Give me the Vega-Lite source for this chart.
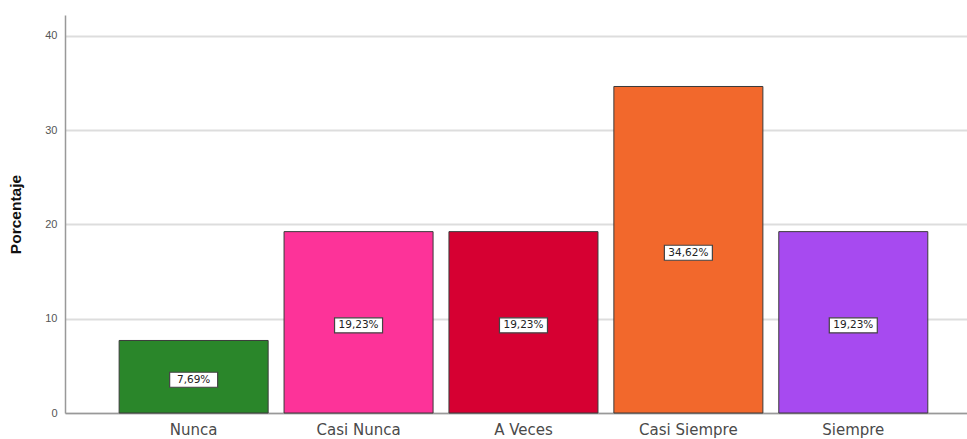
{
  "$schema": "https://vega.github.io/schema/vega-lite/v6.json",
  "width": 902,
  "height": 398,
  "autosize": {"type": "none"},
  "padding": {"left": 65, "top": 15, "right": 0, "bottom": 26},
  "background": "white",
  "config": {"view": {"stroke": null}, "font": "Liberation Sans"},
  "data": {"values": [
    {"cat": "Nunca", "pct": 7.69, "label": "7,69%"},
    {"cat": "Casi Nunca", "pct": 19.23, "label": "19,23%"},
    {"cat": "A Veces", "pct": 19.23, "label": "19,23%"},
    {"cat": "Casi Siempre", "pct": 34.62, "label": "34,62%"},
    {"cat": "Siempre", "pct": 19.23, "label": "19,23%"}
  ]},
  "transform": [{"calculate": "datum.pct / 2", "as": "mid"}],
  "encoding": {
    "x": {
      "field": "cat", "type": "nominal", "sort": null,
      "scale": {"paddingInner": 0.0964, "paddingOuter": 0.283, "align": 0.58},
      "axis": {"title": null, "labelAngle": 0, "labelFontSize": 15, "labelColor": "#4a4a4a", "labelPadding": 9, "ticks": false, "domainColor": "#999999", "domainWidth": 1.5, "labelFont": "DejaVu Sans"}
    }
  },
  "layer": [
    {
      "mark": {"type": "bar", "stroke": "#3a3a3a", "strokeWidth": 1},
      "encoding": {
        "y": {
          "field": "pct", "type": "quantitative",
          "scale": {"domain": [0, 42.2], "nice": false},
          "axis": {"title": "Porcentaje", "titleFontSize": 15.5, "titleFontWeight": "bold", "titleColor": "#111111", "titlePadding": 21, "titleFont": "Liberation Sans",
            "values": [0, 10, 20, 30, 40], "labelFontSize": 11, "labelColor": "#555555", "labelPadding": 8, "ticks": false,
            "grid": true, "gridColor": "#dddddd", "gridWidth": 2, "domainColor": "#999999", "domainWidth": 1.5}
        },
        "color": {
          "field": "cat", "type": "nominal", "sort": null, "legend": null,
          "scale": {"domain": ["Nunca", "Casi Nunca", "A Veces", "Casi Siempre", "Siempre"],
                    "range": ["#2a862a", "#fd3399", "#d60032", "#f2682c", "#a74af0"]}
        }
      }
    },
    {
      "mark": {"type": "point", "shape": "M-1.6,-0.5H1.6V0.5H-1.6Z", "size": 900, "filled": true, "fill": "white", "stroke": "#444444", "strokeWidth": 1.2, "opacity": 1, "yOffset": 3},
      "encoding": {"y": {"field": "mid", "type": "quantitative"}}
    },
    {
      "mark": {"type": "text", "fontSize": 10.5, "color": "#222222", "baseline": "middle", "align": "center", "font": "DejaVu Sans", "yOffset": 3},
      "encoding": {"y": {"field": "mid", "type": "quantitative"}, "text": {"field": "label"}}
    }
  ]
}
